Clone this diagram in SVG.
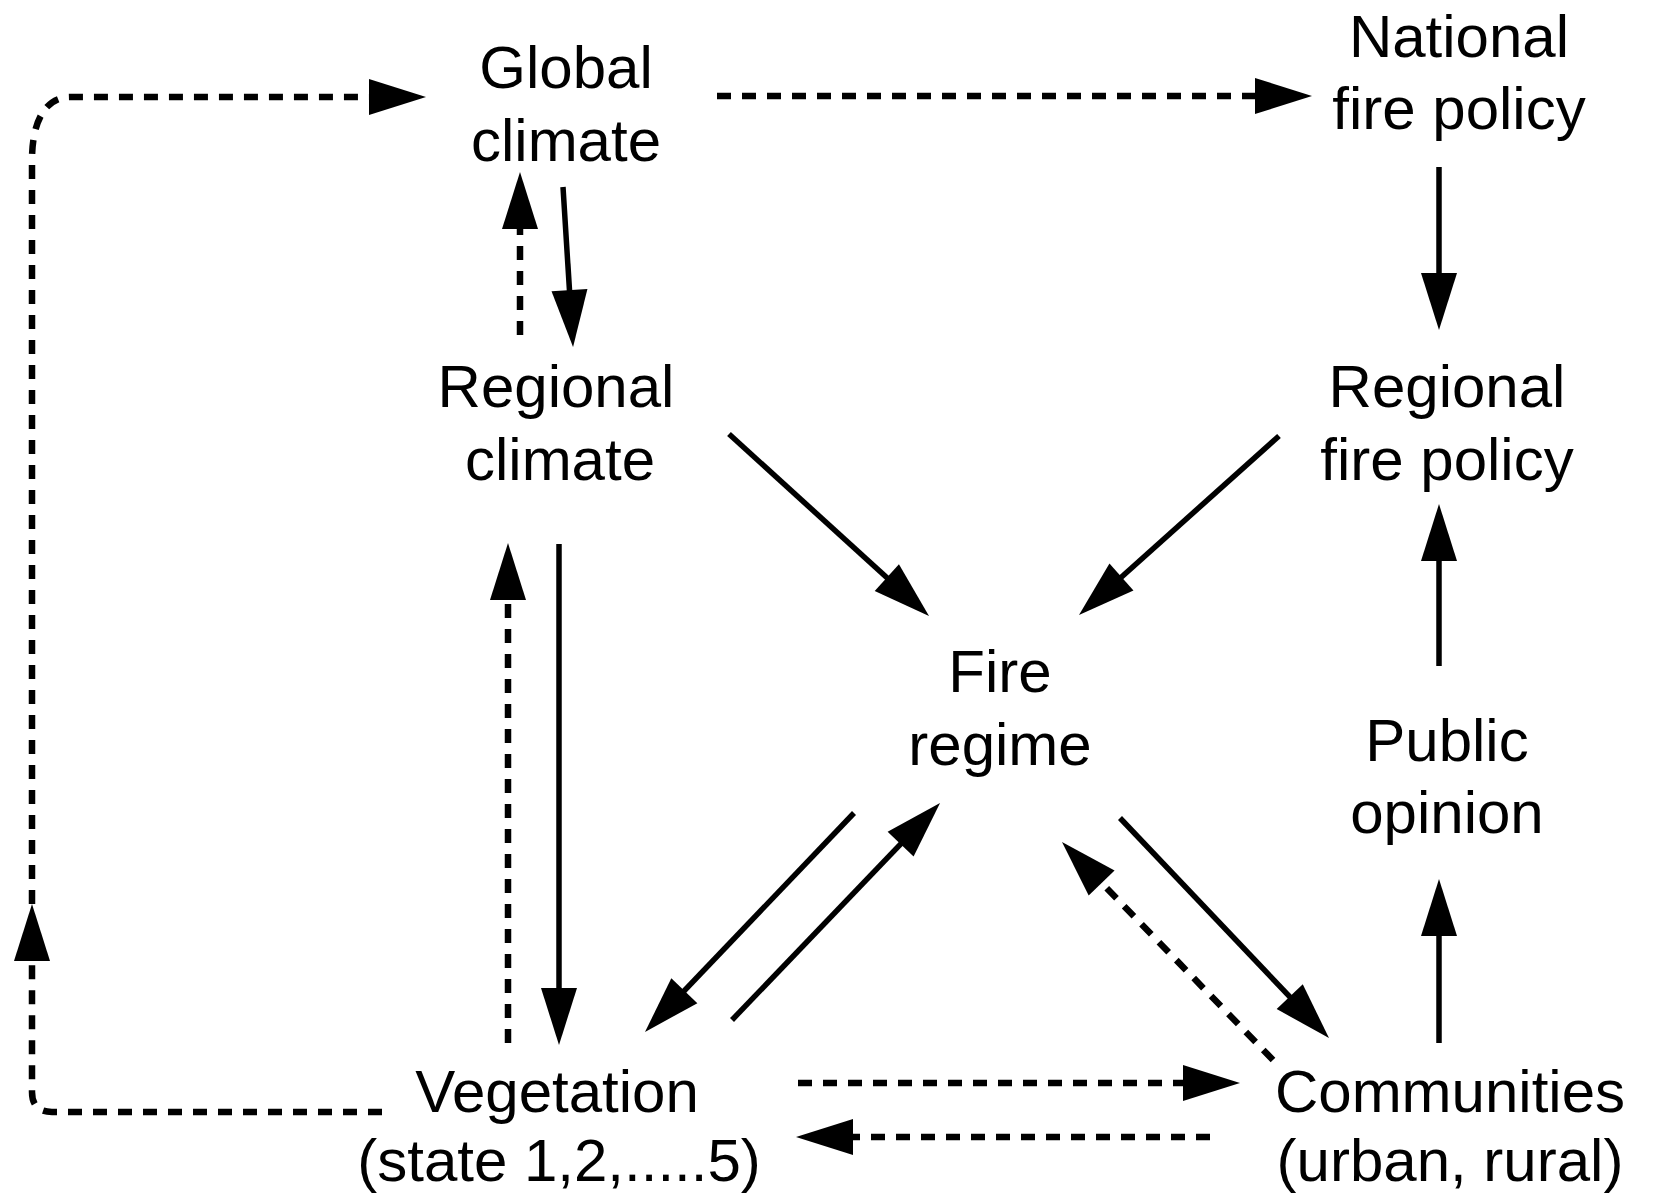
<svg xmlns="http://www.w3.org/2000/svg" width="1653" height="1199" viewBox="0 0 1653 1199">
<style>
.t{font-family:"Liberation Sans",Arial,sans-serif;font-size:60px;fill:#000;text-anchor:middle}
.c{fill:none;stroke:#000;stroke-width:5.5}
.d{stroke-width:6.5;stroke-dasharray:14 11}
</style>
<defs>
<marker id="ah" markerUnits="userSpaceOnUse" viewBox="-40 -20 65 40" markerWidth="65" markerHeight="40" refX="0" refY="0" orient="auto" overflow="visible">
<path d="M-37,-18 L20,0 L-37,18 Z" fill="#000"/>
</marker>
</defs>
<rect width="1653" height="1199" fill="#fff"/>
<g id="connectors">
<path class="c d" d="M717,96 H1292" marker-end="url(#ah)"/>
<path class="c d" d="M382,1112 H52 Q32,1112 32,1092 V924" marker-end="url(#ah)"/>
<path class="c d" d="M32,904 V160 C32,122 45,97 70,97 H406" marker-end="url(#ah)"/>
<path class="c" d="M563,187 L571.8,327" marker-end="url(#ah)"/>
<path class="c d" d="M520,335 V192" marker-end="url(#ah)"/>
<path class="c" d="M729,434 L914.2,602.5" marker-end="url(#ah)"/>
<path class="c" d="M1279,436 L1093.9,601.7" marker-end="url(#ah)"/>
<path class="c" d="M1439,167 V310" marker-end="url(#ah)"/>
<path class="c" d="M1439,666 V524" marker-end="url(#ah)"/>
<path class="c" d="M1439,1043 V899" marker-end="url(#ah)"/>
<path class="c" d="M1120,818 L1315.2,1023.5" marker-end="url(#ah)"/>
<path class="c d" d="M1273,1060 L1075.9,856.4" marker-end="url(#ah)"/>
<path class="c" d="M559,544 V1025" marker-end="url(#ah)"/>
<path class="c d" d="M508,1043 V563" marker-end="url(#ah)"/>
<path class="c" d="M854,813 L658.8,1017.5" marker-end="url(#ah)"/>
<path class="c" d="M732,1020 L926.2,817.4" marker-end="url(#ah)"/>
<path class="c d" d="M798,1083 H1220" marker-end="url(#ah)"/>
<path class="c d" d="M1210,1137 H816" marker-end="url(#ah)"/>
</g>
<g id="global-climate"><text class="t" x="566" y="88">Global</text><text class="t" x="566" y="161">climate</text></g>
<g id="national-fire-policy"><text class="t" x="1459" y="57">National</text><text class="t" x="1459" y="129">fire policy</text></g>
<g id="regional-climate"><text class="t" x="556" y="407">Regional</text><text class="t" x="560" y="480">climate</text></g>
<g id="regional-fire-policy"><text class="t" x="1447" y="407">Regional</text><text class="t" x="1447" y="480">fire policy</text></g>
<g id="fire-regime"><text class="t" x="1000" y="692">Fire</text><text class="t" x="1000" y="765">regime</text></g>
<g id="public-opinion"><text class="t" x="1447" y="761">Public</text><text class="t" x="1447" y="833">opinion</text></g>
<g id="vegetation"><text class="t" x="557" y="1112">Vegetation</text><text class="t" x="559" y="1181">(state 1,2,.....5)</text></g>
<g id="communities"><text class="t" x="1450" y="1112">Communities</text><text class="t" x="1450" y="1181">(urban, rural)</text></g>
</svg>
